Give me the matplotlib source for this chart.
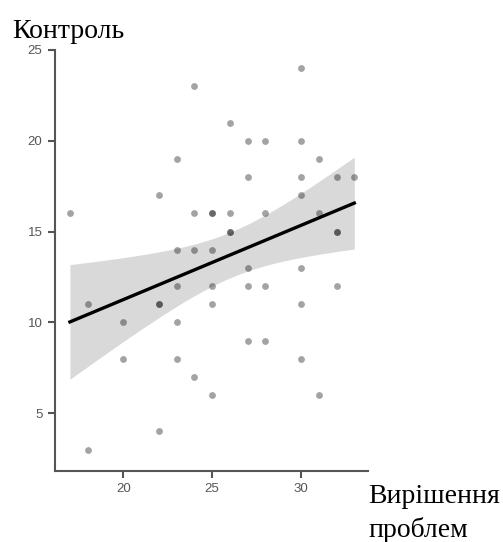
import numpy as np
import matplotlib
matplotlib.use("Agg")
import matplotlib.pyplot as plt

# Вирішення проблем (x) vs Контроль (y)
x_vals = [24, 30, 26, 27, 28, 30, 23, 31, 27, 30, 32, 33, 22, 30,
          17, 24, 25, 25, 26, 28, 31,
          26, 26, 32, 32,
          23, 24, 25,
          27, 30,
          23, 25, 27, 28, 32,
          18, 22, 22, 25, 30,
          20, 23,
          27, 28,
          20, 23, 30,
          24,
          25, 31,
          22,
          18]
y_vals = [23, 24, 21, 20, 20, 20, 19, 19, 18, 18, 18, 18, 17, 17,
          16, 16, 16, 16, 16, 16, 16,
          15, 15, 15, 15,
          14, 14, 14,
          13, 13,
          12, 12, 12, 12, 12,
          11, 11, 11, 11, 11,
          10, 10,
          9, 9,
          8, 8, 8,
          7,
          6, 6,
          4,
          3]

x = np.array(x_vals, dtype=float)
y = np.array(y_vals, dtype=float)

# linear fit + 95% confidence band
n = len(x)
slope, intercept = np.polyfit(x, y, 1)
resid = y - (slope * x + intercept)
s = np.sqrt(np.sum(resid ** 2) / (n - 2))
t_crit = 2.0096  # t(0.975, df=49)
xs = np.linspace(x.min(), x.max(), 100)
ys = slope * xs + intercept
se = s * np.sqrt(1 / n + (xs - x.mean()) ** 2 / np.sum((x - x.mean()) ** 2))

plt.rcParams['font.family'] = ['Liberation Sans', 'DejaVu Sans']

fig = plt.figure(figsize=(5.03, 5.42), dpi=100)
ax = fig.add_axes([55 / 503, 1 - 470.7 / 542, (368 - 55) / 503, (470.7 - 50) / 542])

ax.fill_between(xs, ys - t_crit * se, ys + t_crit * se, color='#d9d9d9', lw=0, zorder=1)
ax.scatter(x, y, s=24, color='black', alpha=0.36, linewidths=0, zorder=2)
ax.plot(xs, ys, color='black', lw=2.4, zorder=3)

ax.set_xlim(16.16, 33.77)
ax.set_ylim(1.84, 25)
ax.set_xticks([20, 25, 30])
ax.set_yticks([5, 10, 15, 20, 25])

for side in ['top', 'right']:
    ax.spines[side].set_visible(False)
for side in ['left', 'bottom']:
    ax.spines[side].set_color('#555555')
    ax.spines[side].set_linewidth(1.5)
ax.tick_params(colors='#555555', length=5, width=1.5, labelsize=9.5,
               labelcolor='#555555', pad=4)

serif = ['Liberation Serif', 'DejaVu Serif']
fig.text(12 / 503, 1 - 38 / 542, 'Контроль', family=serif, fontsize=20, color='black')
fig.text(368 / 503, 1 - 503 / 542, 'Вирішення', family=serif, fontsize=20, color='black')
fig.text(368 / 503, 1 - 537 / 542, 'проблем', family=serif, fontsize=20, color='black')

fig.savefig('out.png', dpi=100)
